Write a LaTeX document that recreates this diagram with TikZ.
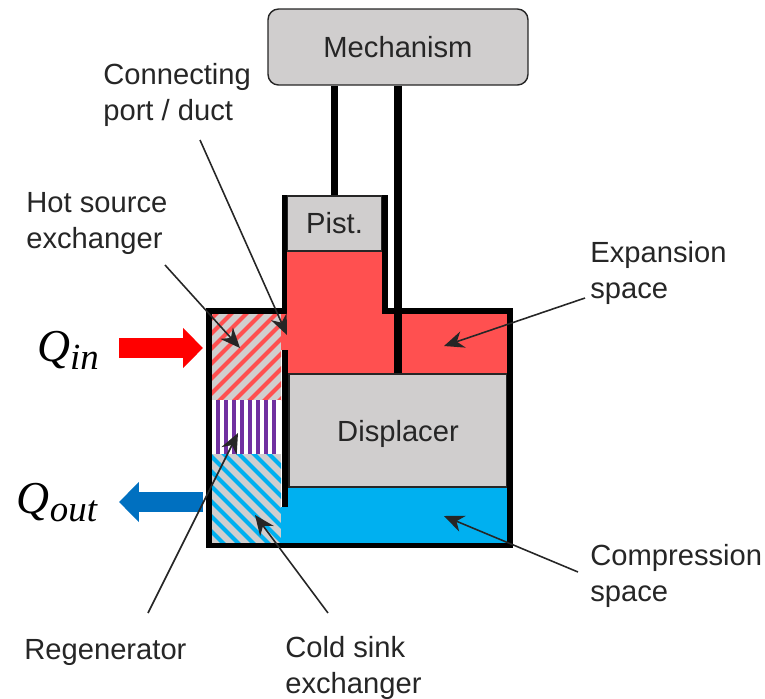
\documentclass[tikz,border=0pt]{standalone}
\usepackage{fontspec}
\setmainfont{Liberation Sans}
\newfontfamily\qfont{Liberation Serif}
\usetikzlibrary{arrows.meta,positioning,calc}
\definecolor{cGrey}{HTML}{d0cece}
\definecolor{cRed}{HTML}{ff5050}
\definecolor{cBlue}{HTML}{00b0f0}
\definecolor{cPurple}{HTML}{7030a0}
\definecolor{cIn}{HTML}{ff0000}
\definecolor{cOut}{HTML}{0070c0}
\definecolor{cInk}{HTML}{262626}
\tikzset{
  part/.style={draw=cInk,line width=0.8pt,fill=cGrey,inner sep=0pt,text=cInk,font=\fontsize{16.6}{20.4}\selectfont},
  lbl/.style={inner sep=0pt,align=left,anchor=north west,text=cInk,font=\fontsize{16.6}{20.4}\selectfont},
  heat/.style={inner sep=0pt,font=\qfont\itshape\fontsize{26}{28}\selectfont},
  wall/.style={line width=3.4pt,black,miter limit=10},
  rod/.style={line width=4.2pt,black},
  leader/.style={-{Stealth[length=4mm,width=3.4mm]},line width=0.9pt,cInk},
  flow/.style={-{Triangle[length=4mm,width=7.8mm]},line width=11.3pt},
}
\newcommand{\heatsub}[1]{\raisebox{-4.5pt}{\fontsize{21}{21}\selectfont #1}}
\begin{document}
\begin{tikzpicture}[x=0.02cm,y=-0.02cm]
\useasboundingbox (0,0) rectangle (765,698);
% gas spaces
\fill[cRed] (287,251) -- (385,251) -- (385,311) -- (507,311) -- (507,374) -- (287,374) -- (287,350) -- (281,350) -- (281,314) -- (287,314) -- cycle;
\fill[cBlue] (287,487) -- (507,487) -- (507,543) -- (281,543) -- (281,507) -- (287,507) -- cycle;
% hatched exchangers
\fill[cGrey] (212,314) rectangle (281,400);
\begin{scope}
  \clip (212,314) rectangle (281,400);
  \foreach \i in {0,...,14}
    \draw[cRed,line width=2.4pt] ({90+15*\i},410) -- ++(110,-110);
\end{scope}
\fill[white] (212,400) rectangle (281,454);
\foreach \i in {0,...,7}
  \fill[cPurple] ({216+8*\i},400) rectangle ++(4,54);
\fill[cGrey] (212,454) rectangle (281,543);
\begin{scope}
  \clip (212,454) rectangle (281,543);
  \foreach \i in {0,...,14}
    \draw[cBlue,line width=2.4pt] ({90+15*\i},440) -- ++(115,115);
\end{scope}
% parts
\node[part,minimum width=5.2cm,minimum height=1.52cm,rounded corners=6pt] (mech) at (398,47) {Mechanism};
\node[part,minimum width=1.9cm,minimum height=1.1cm] (pist) at (334.5,223.5) {Pist.};
\node[part,minimum width=4.36cm,minimum height=2.26cm,text depth=0pt] (disp) at (398,430.5) {Displacer};
\draw[rod] (mech.south -| pist.north) -- (pist.north);
\draw[rod] (mech.south) -- (disp.north);
% vessel
\draw[wall] (284.5,195) -- (284.5,311) -- (209,311) -- (209,545.5) -- (510,545.5) -- (510,311) -- (385,311) -- (385,195);
\draw[line width=3.6pt,black] (285,350) -- (285,507);
% heat flows
\coordinate (inA) at (119,348);
\coordinate (inB) at (203,348);
\coordinate (outA) at (203,502);
\coordinate (outB) at (119,502);
\draw[flow,cIn] (inA) -- (inB);
\draw[flow,cOut] (outA) -- (outB);
\node[heat] (qin) at (68,350) {Q\heatsub{in}};
\node[heat] (qout) at (57,503) {Q\heatsub{out}};
% labels
\node[lbl] (port) at (103,63) {Connecting\\port / duct};
\node[lbl] (hot) at (26,192) {Hot source\\exchanger};
\node[lbl] (exp) at (590,241) {Expansion\\space};
\node[lbl] (comp) at (590,544) {Compression\\space};
\node[lbl] (regen) at (24,639) {Regenerator};
\node[lbl] (cold) at (285,636) {Cold sink\\exchanger};
% leaders
\coordinate (portA) at (200,140);
\coordinate (portB) at (287,335);
\coordinate (hotA) at (165,265);
\coordinate (hotB) at (240,348);
\coordinate (expA) at (585,298);
\coordinate (expB) at (444,346);
\coordinate (compA) at (578,572);
\coordinate (compB) at (444,516);
\coordinate (regenA) at (148,613);
\coordinate (regenB) at (238,433);
\coordinate (coldA) at (328,613);
\coordinate (coldB) at (255,515);
\draw[leader] (portA) -- (portB);
\draw[leader] (hotA) -- (hotB);
\draw[leader] (expA) -- (expB);
\draw[leader] (compA) -- (compB);
\draw[leader] (regenA) -- (regenB);
\draw[leader] (coldA) -- (coldB);
\end{tikzpicture}
\end{document}
